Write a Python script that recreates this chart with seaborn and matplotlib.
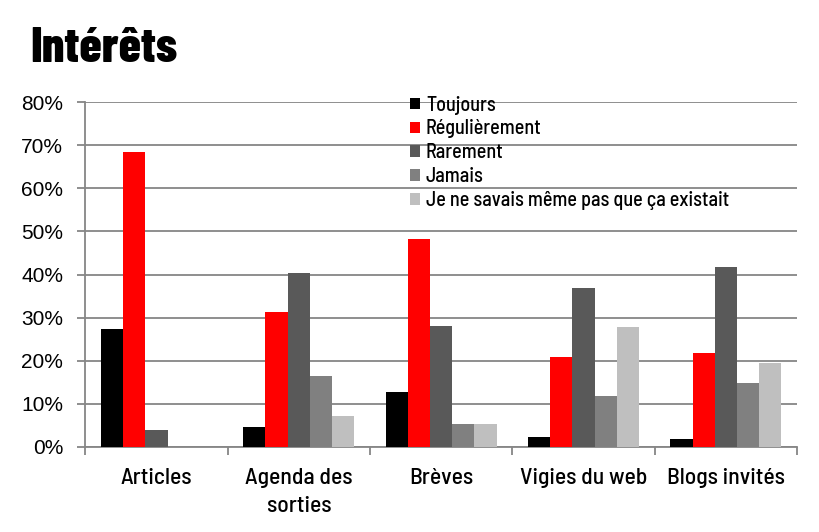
import matplotlib
matplotlib.use("Agg")
import matplotlib.pyplot as plt
import seaborn as sns
import pandas as pd
import numpy as np
from matplotlib.ticker import PercentFormatter, FixedLocator

categories = ["Articles", "Agenda des\nsorties", "Brèves", "Vigies du web", "Blogs invités"]
series = ["Toujours", "Régulièrement", "Rarement", "Jamais",
          "Je ne savais même pas que ça existait"]
toujours = [27.4, 4.6, 12.8, 2.3, 1.9]
regulierement = [68.4, 31.2, 48.3, 20.9, 21.8]
rarement = [3.9, 40.4, 28.1, 36.9, 41.8]
jamais = [0.0, 16.5, 5.3, 11.8, 14.8]
ne_savais = [0.0, 7.2, 5.3, 27.8, 19.5]
colors = ["#000000", "#ff0000", "#595959", "#808080", "#bfbfbf"]

values = [toujours, regulierement, rarement, jamais, ne_savais]
rows = []
for s, vals in zip(series, values):
    for c, v in zip(categories, vals):
        rows.append({"cat": c, "serie": s, "val": v})
df = pd.DataFrame(rows)

sns.set_theme(style="white")
COND = ["Barlow Condensed", "Roboto Condensed", "Open Sans Condensed", "DejaVu Sans"]
SEMI = ["Barlow Semi Condensed", "Barlow Condensed", "DejaVu Sans"]
ARIAL = ["Liberation Sans", "DejaVu Sans"]
plt.rcParams["font.family"] = COND

fig = plt.figure(figsize=(8.2, 5.32), dpi=100)
ax = fig.add_axes([0.104, 0.160, 0.868, 0.648])
sns.barplot(data=df, x="cat", y="val", hue="serie", order=categories,
            hue_order=series, palette=colors, width=0.78, gap=0,
            saturation=1, ax=ax, errorbar=None, edgecolor="none", zorder=3)

ax.set_ylim(0, 80)
ax.set_xlim(-0.5, 4.5)
ax.yaxis.set_major_locator(FixedLocator(np.arange(0, 81, 10)))
ax.yaxis.set_major_formatter(PercentFormatter(decimals=0))
ax.grid(axis="y", color="#868686", linewidth=1.3, zorder=0)
ax.set_axisbelow(True)
ax.set_xlabel("")
ax.set_ylabel("")

for side in ["top", "right"]:
    ax.spines[side].set_visible(False)
for side in ["left", "bottom"]:
    ax.spines[side].set_color("#868686")
    ax.spines[side].set_linewidth(1.3)

ax.tick_params(axis="y", which="major", left=True, length=6, width=1.3,
               color="#868686", pad=10, labelcolor="black")
for lab in ax.get_yticklabels():
    lab.set_fontfamily(ARIAL)
    lab.set_fontsize(15)
ax.tick_params(axis="x", which="major", length=0, pad=15, labelcolor="black")
for lab in ax.get_xticklabels():
    lab.set_fontfamily(SEMI)
    lab.set_fontsize(17)
    lab.set_fontweight(500)
    lab.set_linespacing(1.5)
ax.set_xticks(np.arange(-0.5, 5.0, 1.0), minor=True)
ax.tick_params(axis="x", which="minor", bottom=True, length=6, width=1.3,
               color="#868686")

leg = ax.legend(loc="upper left", bbox_to_anchor=(0.456, 1.019), frameon=False,
                prop={"family": SEMI, "size": 14.5, "weight": 500},
                handlelength=0.5, handleheight=0.5,
                handletextpad=0.3, labelspacing=0.24, borderaxespad=0,
                borderpad=0)
for t in leg.get_texts():
    t.set_color("black")

fig.text(0.037, 1 - 62 / 532, "Intérêts", fontsize=36, fontweight=800,
         fontfamily=COND, color="black", ha="left", va="baseline")

fig.savefig("out.png", dpi=100)
